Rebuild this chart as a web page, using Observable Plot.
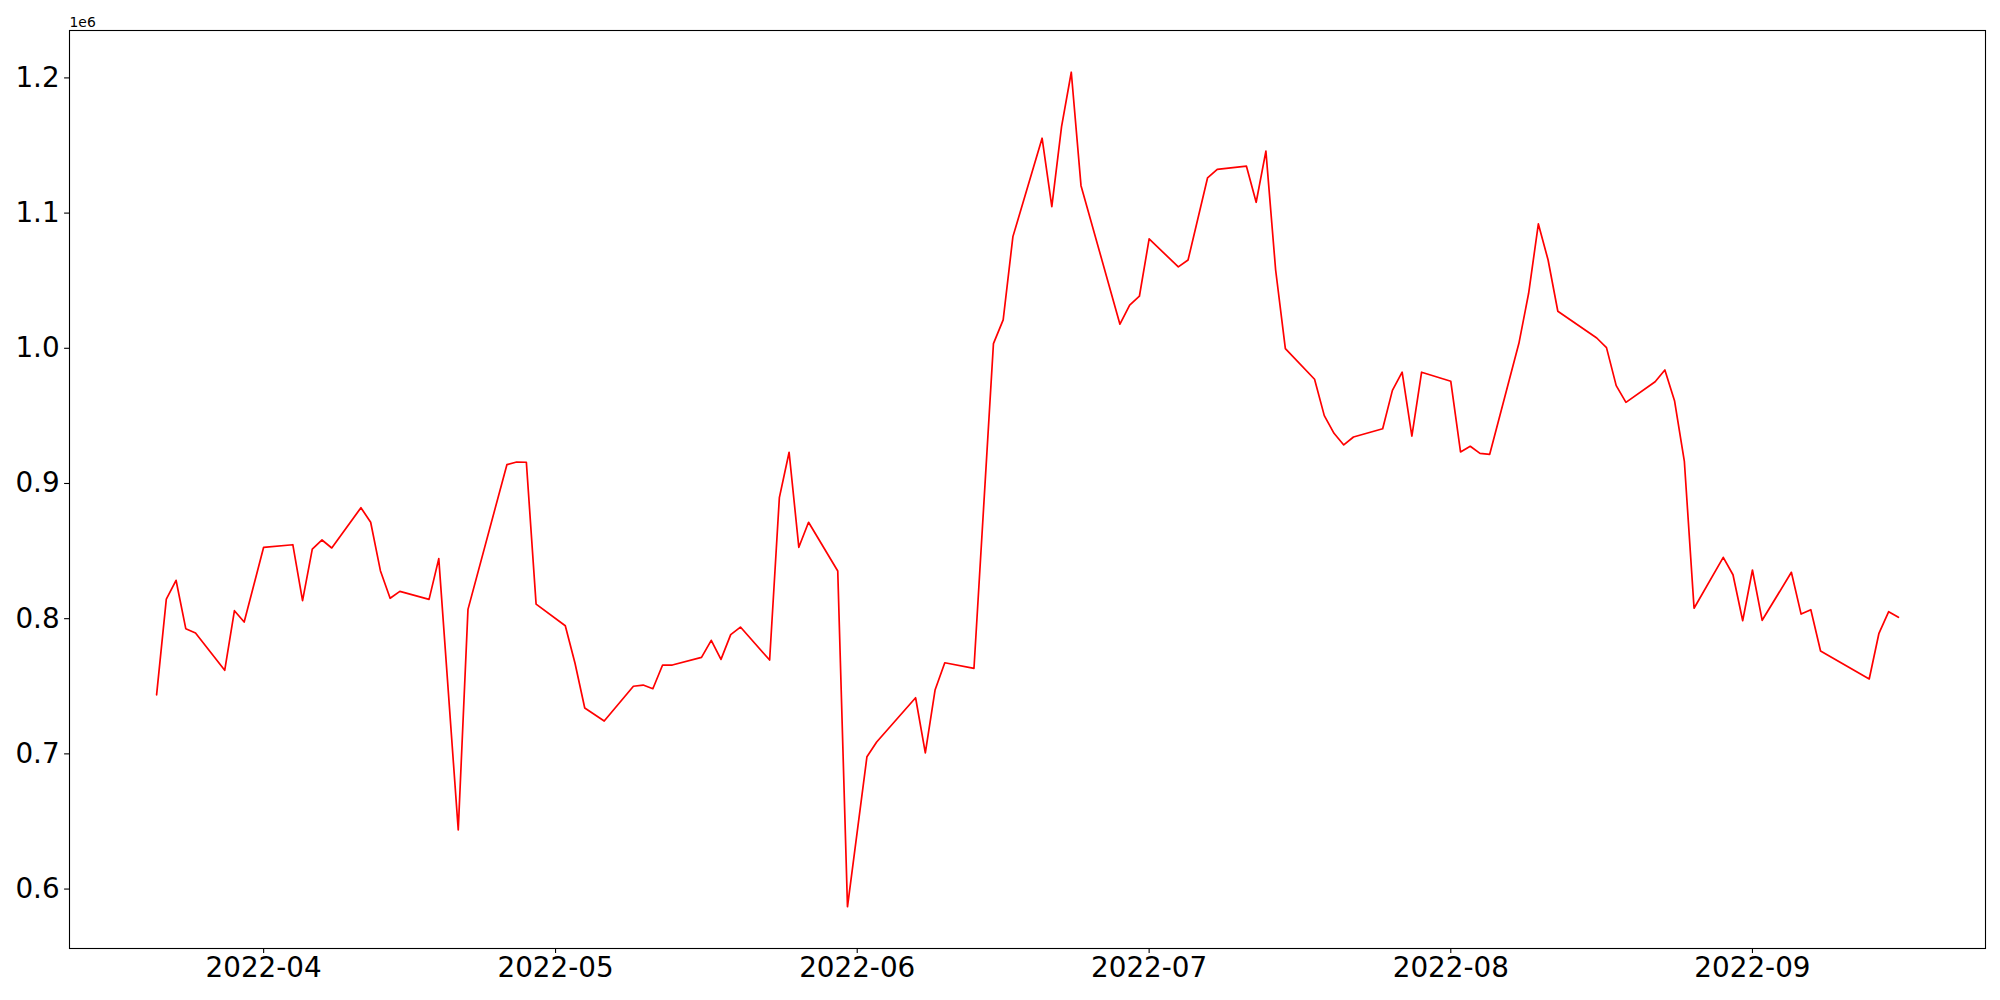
<!DOCTYPE html>
<html>
<head>
<meta charset="utf-8">
<script src="https://cdn.jsdelivr.net/npm/d3@7"></script>
<script src="https://cdn.jsdelivr.net/npm/@observablehq/plot@0.6"></script>
<style>
  html, body { margin: 0; padding: 0; background: #fff; }
  #chart { width: 2000px; height: 1000px; }
</style>
</head>
<body>
<div id="chart"></div>
<script>
const dates = [
  "2022-03-21","2022-03-22","2022-03-23","2022-03-24","2022-03-25","2022-03-28","2022-03-29","2022-03-30",
  "2022-04-01","2022-04-04","2022-04-05","2022-04-06","2022-04-07","2022-04-08","2022-04-11","2022-04-12",
  "2022-04-13","2022-04-14","2022-04-15","2022-04-18","2022-04-19","2022-04-21","2022-04-22","2022-04-26",
  "2022-04-27","2022-04-28","2022-04-29","2022-05-02","2022-05-03","2022-05-04","2022-05-06","2022-05-09",
  "2022-05-10","2022-05-11","2022-05-12","2022-05-13","2022-05-16","2022-05-17","2022-05-18","2022-05-19",
  "2022-05-20","2022-05-23","2022-05-24","2022-05-25","2022-05-26","2022-05-27","2022-05-30","2022-05-31",
  "2022-06-02","2022-06-03","2022-06-07","2022-06-08","2022-06-09","2022-06-10","2022-06-13","2022-06-15",
  "2022-06-16","2022-06-17","2022-06-20","2022-06-21","2022-06-22","2022-06-23","2022-06-24","2022-06-28",
  "2022-06-29","2022-06-30","2022-07-01","2022-07-04","2022-07-05","2022-07-07","2022-07-08","2022-07-11",
  "2022-07-12","2022-07-13","2022-07-14","2022-07-15","2022-07-18","2022-07-19","2022-07-20","2022-07-21",
  "2022-07-22","2022-07-25","2022-07-26","2022-07-27","2022-07-28","2022-07-29","2022-08-01","2022-08-02",
  "2022-08-03","2022-08-04","2022-08-05","2022-08-08","2022-08-09","2022-08-10","2022-08-11","2022-08-12",
  "2022-08-16","2022-08-17","2022-08-18","2022-08-19","2022-08-22","2022-08-23","2022-08-24","2022-08-25",
  "2022-08-26","2022-08-29","2022-08-30","2022-08-31","2022-09-01","2022-09-02","2022-09-05","2022-09-06",
  "2022-09-07","2022-09-08","2022-09-13","2022-09-14","2022-09-15","2022-09-16"
];
const values = [
  743700, 814500, 828400, 792600, 789400, 761800, 805900, 797500,
  852800, 854700, 813300, 851500, 858200, 852300, 882100, 871300,
  835500, 815100, 820200, 814300, 844400, 643700, 806900, 913900,
  915900, 915700, 810800, 794800, 767000, 733900, 724300, 750000,
  750900, 748200, 765700, 765700, 771400, 784000, 769900, 788200,
  793800, 769400, 889500, 923100, 852800, 871300, 835300, 586900,
  697900, 708800, 741500, 700800, 747200, 767400, 763300, 1003400,
  1021000, 1082600, 1155400, 1104800, 1164000, 1204200, 1120300, 1017800,
  1032000, 1038500, 1080900, 1060200, 1065300, 1126000, 1132400, 1134700,
  1108000, 1145800, 1057900, 999700, 977100, 950200, 937100, 928500,
  934400, 940500, 968900, 982300, 935100, 982300, 975600, 923300,
  927500, 922300, 921600, 1003700, 1040700, 1092000, 1065300, 1027400,
  1007600, 1000500, 972400, 960000, 975300, 984000, 961000, 916600,
  807700, 845400, 832500, 798500, 836000, 798800, 834300, 803400,
  806600, 776100, 755400, 789200, 805200, 801000
];
const xTicks = ["2022-04-01","2022-05-01","2022-06-01","2022-07-01","2022-08-01","2022-09-01"];
const yTicks = [600000, 700000, 800000, 900000, 1000000, 1100000, 1200000];
const offsetLabel = "1e6";

const data = dates.map((d, i) => ({date: new Date(d + "T00:00:00Z"), value: values[i]}));

// matplotlib-style 5% margins
const tMin = d3.min(data, d => +d.date), tMax = d3.max(data, d => +d.date);
const tPad = (tMax - tMin) * 0.05;
const vMin = d3.min(values), vMax = d3.max(values);
const vPad = (vMax - vMin) * 0.05;

const chart = Plot.plot({
  width: 2000,
  height: 1000,
  marginLeft: 69,
  marginRight: 15,
  marginTop: 30,
  marginBottom: 52,
  style: {fontFamily: "DejaVu Sans, sans-serif", fontSize: "27.8px", color: "#000", background: "#fff", overflow: "visible"},
  x: {type: "utc", domain: [new Date(tMin - tPad), new Date(tMax + tPad)]},
  y: {domain: [vMin - vPad, vMax + vPad]},
  marks: [
    Plot.line(data, {x: "date", y: "value", stroke: "#ff0000", strokeWidth: 1.7}),
    Plot.frame({stroke: "#000", strokeWidth: 1.1}),
    Plot.axisX({
      ticks: xTicks.map(d => new Date(d + "T00:00:00Z")),
      tickFormat: d3.utcFormat("%Y-%m"),
      tickSize: 4.9, tickPadding: 4, fontSize: 27.8, label: null, stroke: "#000", strokeWidth: 1.1
    }),
    Plot.axisY({
      ticks: yTicks,
      tickFormat: d => (d / 1e6).toFixed(1),
      tickSize: 4.9, tickPadding: 5, fontSize: 27.8, label: null, stroke: "#000", strokeWidth: 1.1
    }),
    Plot.text([offsetLabel], {
      text: d => d, frameAnchor: "top-left", textAnchor: "start", lineAnchor: "bottom",
      dx: 0, dy: -4, fontSize: 13.9, fill: "#000"
    })
  ]
});
document.getElementById("chart").appendChild(chart);
</script>
</body>
</html>
